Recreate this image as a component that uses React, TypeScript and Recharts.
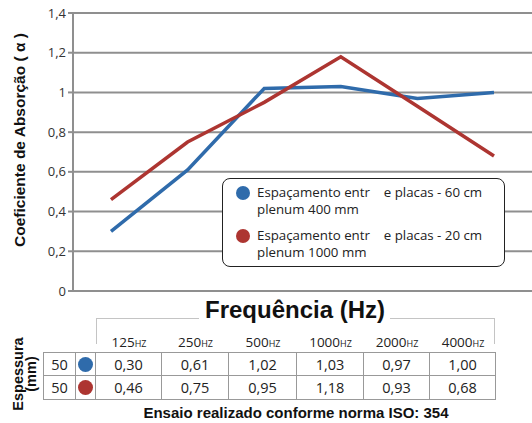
import React from "react";
import { LineChart, Line, CartesianGrid, XAxis, YAxis } from "recharts";

// frequências (Hz) e coeficientes
const frequencies = ["125", "250", "500", "1000", "2000", "4000"];
const absorption60cm = [0.3, 0.61, 1.02, 1.03, 0.97, 1.0];
const absorption20cm = [0.46, 0.75, 0.95, 1.18, 0.93, 0.68];
const thicknessMm = [50, 50];
const yTicks = [0, 0.2, 0.4, 0.6, 0.8, 1, 1.2, 1.4];
const legendLabels = [
  ["Espaçamento entr    e placas - 60 cm", "plenum 400 mm"],
  ["Espaçamento entr    e placas - 20 cm", "plenum 1000 mm"],
];

const BLUE = "#2f6bab";
const RED = "#ad3531";
const seriesColors = [BLUE, RED];
const seriesValues = [absorption60cm, absorption20cm];

const data = frequencies.map((f, i) => ({
  name: f,
  a: absorption60cm[i],
  b: absorption20cm[i],
}));

const fmt = (v: number) => String(v).replace(".", ",");
const fmt2 = (v: number) => v.toFixed(2).replace(".", ",");

// colunas da tabela (x das bordas)
const colEdges = [43, 76, 96, 162, 229, 297, 364, 430, 496];
const rowEdges = [352, 376, 400];

const Dot = ({ color, size }: { color: string; size: number }) => (
  <span
    style={{
      display: "inline-block",
      width: size,
      height: size,
      borderRadius: "50%",
      background: color,
    }}
  />
);

export default function App() {
  return (
    <div
      style={{
        position: "absolute",
        left: 0,
        top: 0,
        width: 532,
        height: 423,
        background: "#fff",
        fontFamily: "'Open Sans', sans-serif",
        overflow: "hidden",
      }}
    >
      <LineChart
        width={532}
        height={300}
        data={data}
        margin={{ top: 13, right: 0, bottom: 9, left: 0 }}
      >
        <CartesianGrid vertical={false} stroke="#8f8f8f" strokeWidth={2} />
        <XAxis dataKey="name" hide padding={{ left: 38, right: 38 }} />
        <YAxis
          width={73}
          domain={[0, 1.4]}
          ticks={yTicks}
          tickFormatter={fmt}
          axisLine={{ stroke: "#8f8f8f", strokeWidth: 2 }}
          tickLine={{ stroke: "#8f8f8f", strokeWidth: 2 }}
          tickSize={5}
          tick={{ fontSize: 13, fill: "#333", fontFamily: "'Open Sans', sans-serif" }}
        />
        <Line
          dataKey="a"
          stroke={BLUE}
          strokeWidth={3.5}
          dot={false}
          type="linear"
          isAnimationActive={false}
        />
        <Line
          dataKey="b"
          stroke={RED}
          strokeWidth={3.5}
          dot={false}
          type="linear"
          isAnimationActive={false}
        />
      </LineChart>

      {/* título do eixo y */}
      <div
        style={{
          position: "absolute",
          left: 20,
          top: 140,
          transform: "translate(-50%, -50%) rotate(-90deg)",
          whiteSpace: "nowrap",
          fontFamily: "'Liberation Sans', Arial, sans-serif",
          fontWeight: "bold",
          fontSize: 15.5,
          color: "#111",
        }}
      >
        Coeficiente de Absorção ( α )
      </div>

      {/* legenda */}
      <div
        style={{
          position: "absolute",
          left: 222,
          top: 178,
          width: 283,
          height: 89,
          border: "1.5px solid #222",
          borderRadius: 8,
          background: "#fff",
          boxSizing: "border-box",
          padding: "5px 0 0 13px",
          fontSize: 13.3,
          lineHeight: "16.5px",
          color: "#222",
        }}
      >
        {legendLabels.map((lines, i) => (
          <div key={i} style={{ display: "flex", marginBottom: i === 0 ? 10 : 0 }}>
            <div style={{ marginTop: 2, marginRight: 7 }}>
              <Dot color={seriesColors[i]} size={14} />
            </div>
            <div style={{ whiteSpace: "pre" }}>
              {lines[0]}
              <br />
              {lines[1]}
            </div>
          </div>
        ))}
      </div>

      {/* título do eixo x e colchete */}
      <div
        style={{
          position: "absolute",
          left: 96,
          top: 318,
          width: 102,
          height: 25,
          borderTop: "1.5px solid #c4c4c4",
          borderLeft: "1.5px solid #c4c4c4",
        }}
      />
      <div
        style={{
          position: "absolute",
          left: 390,
          top: 318,
          width: 104,
          height: 25,
          borderTop: "1.5px solid #c4c4c4",
          borderRight: "1.5px solid #c4c4c4",
        }}
      />
      <div
        style={{
          position: "absolute",
          left: 200,
          width: 190,
          top: 296,
          textAlign: "center",
          fontFamily: "'Liberation Sans', Arial, sans-serif",
          fontWeight: "bold",
          fontSize: 24,
          color: "#111",
        }}
      >
        Frequência (Hz)
      </div>

      {/* cabeçalho da tabela */}
      {frequencies.map((f, i) => (
        <div
          key={f}
          style={{
            position: "absolute",
            left: colEdges[i + 2],
            width: colEdges[i + 3] - colEdges[i + 2],
            top: 333,
            textAlign: "center",
            fontSize: 13.5,
            color: "#222",
          }}
        >
          {f}
          <span style={{ fontSize: 9 }}>HZ</span>
        </div>
      ))}

      {/* tabela */}
      {seriesValues.map((vals, r) =>
        [thicknessMm[r] as number | null, null, ...vals].map((v, c) => (
          <div
            key={`${r}-${c}`}
            style={{
              position: "absolute",
              left: colEdges[c],
              top: rowEdges[r],
              width: colEdges[c + 1] - colEdges[c] + (c > 0 ? 1 : 0),
              height: rowEdges[r + 1] - rowEdges[r] + (r > 0 ? 1 : 0),
              border: "1px solid #999",
              boxSizing: "border-box",
              marginLeft: c > 0 ? -1 : 0,
              marginTop: r > 0 ? -1 : 0,
              display: "flex",
              alignItems: "center",
              justifyContent: "center",
              fontSize: 14.5,
              color: "#222",
            }}
          >
            {c === 1 ? (
              <Dot color={seriesColors[r]} size={15} />
            ) : c === 0 ? (
              String(v)
            ) : (
              fmt2(v as number)
            )}
          </div>
        ))
      )}

      {/* espessura */}
      <div
        style={{
          position: "absolute",
          left: 25,
          top: 374,
          transform: "translate(-50%, -50%) rotate(-90deg)",
          whiteSpace: "nowrap",
          textAlign: "center",
          fontFamily: "'Liberation Sans', Arial, sans-serif",
          fontWeight: "bold",
          fontSize: 14.5,
          lineHeight: "13px",
          color: "#111",
        }}
      >
        Espessura
        <br />
        (mm)
      </div>

      <div
        style={{
          position: "absolute",
          left: 46,
          width: 500,
          top: 404,
          textAlign: "center",
          fontFamily: "'Liberation Sans', Arial, sans-serif",
          fontWeight: "bold",
          fontSize: 15,
          color: "#111",
        }}
      >
        Ensaio realizado conforme norma ISO: 354
      </div>
    </div>
  );
}
